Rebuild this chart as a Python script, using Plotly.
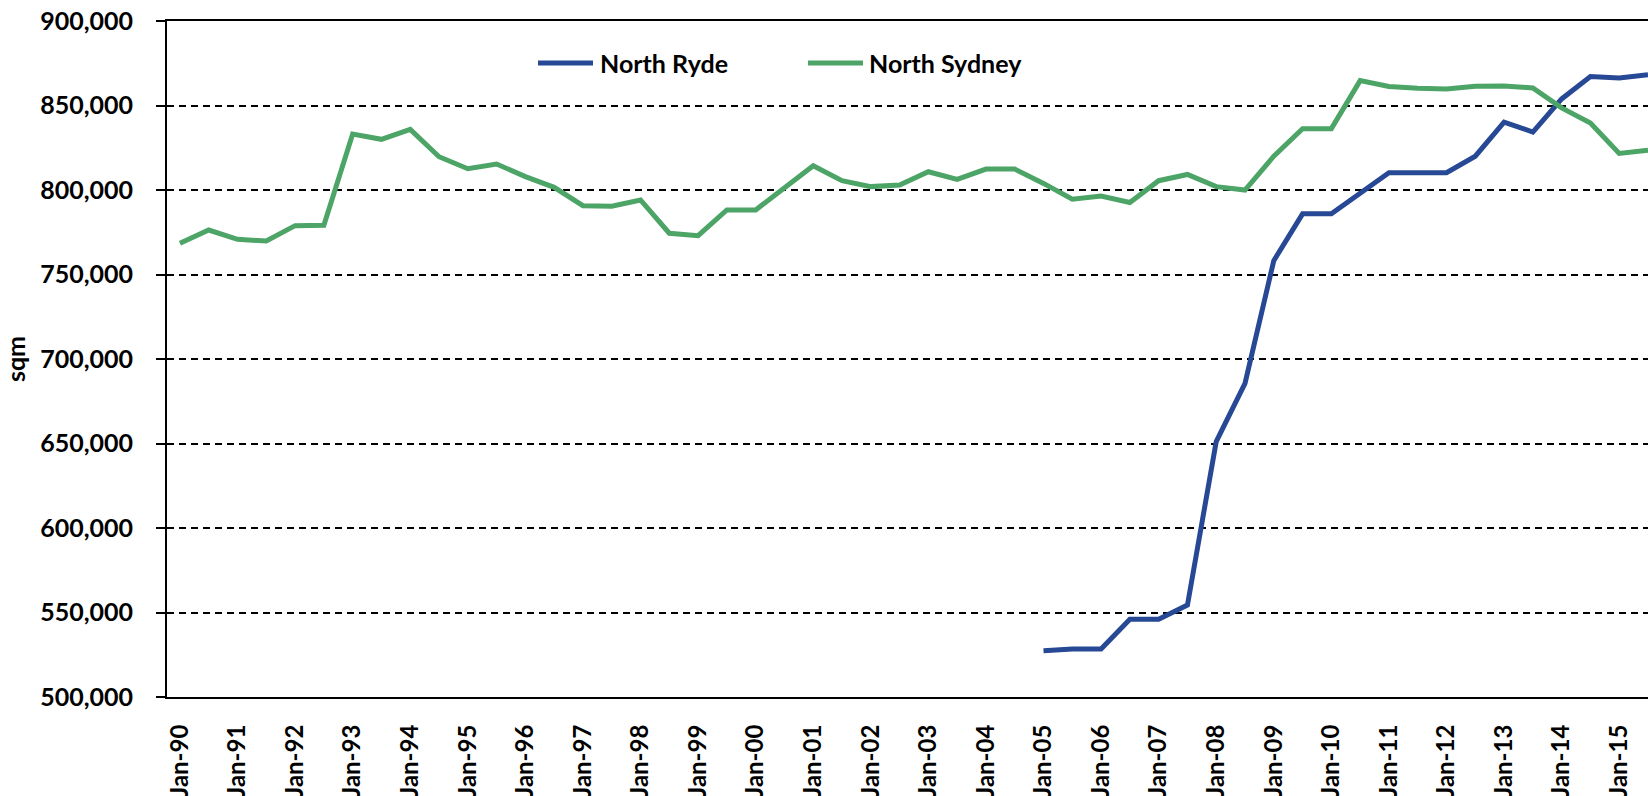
import plotly.graph_objects as go

# Half-yearly periods, Jan-90 .. Jul-15
years = [f"{y % 100:02d}" for y in range(1990, 2016)]
periods = [f"{m}-{yy}" for yy in years for m in ("Jan", "Jul")]
tick_labels = [f"Jan-{yy}" for yy in years]

# Office stock (sqm)
north_sydney = [
    768500, 776300, 770800, 769800, 778900, 779100, 833100, 830000, 835900, 819700,
    812600, 815400, 807900, 801600, 790700, 790400, 794100, 774400, 773000, 788200,
    788200, 801000, 814400, 805500, 802000, 803000, 810800, 806300, 812400, 812400,
    803900, 794500, 796400, 792600, 805500, 809200, 802000, 800000, 820000, 836300,
    836300, 864700, 861200, 860200, 859800, 861400, 861600, 860400, 848600, 839600,
    821600, 823500,
]
north_ryde_periods = periods[30:]
north_ryde = [
    527400, 528400, 528400, 546000, 546000, 554400, 651100, 685600, 758200, 785900,
    785900, 798000, 810200, 810200, 810200, 820000, 840200, 834300, 853900, 867100,
    866300, 868200,
]

BLUE = "#264895"
GREEN = "#4ca466"
FONT = "Lato"

W, H = 1648, 796
M_L, M_R, M_T, M_B = 167, 0, 21, 99
PW, PH = W - M_L - M_R, H - M_T - M_B


def px_x(x):
    return (x - M_L) / PW


def px_y(y):
    return (H - M_B - y) / PH


fig = go.Figure()
fig.add_trace(go.Scatter(
    x=north_ryde_periods, y=north_ryde, mode="lines", name="North Ryde",
    line=dict(color=BLUE, width=5), showlegend=False,
))
fig.add_trace(go.Scatter(
    x=periods, y=north_sydney, mode="lines", name="North Sydney",
    line=dict(color=GREEN, width=5), showlegend=False,
))

# Legend keys drawn across the top of the plot
legend_items = [("North Ryde", BLUE, 538, 593, 598), ("North Sydney", GREEN, 808, 863, 867)]
for name, color, x0, x1, tx in legend_items:
    fig.add_shape(type="line", xref="paper", yref="paper",
                  x0=px_x(x0), x1=px_x(x1), y0=px_y(63), y1=px_y(63),
                  line=dict(color=color, width=5))
    fig.add_annotation(text=name, xref="paper", yref="paper",
                       x=px_x(tx), y=px_y(63), xanchor="left", yanchor="middle",
                       showarrow=False,
                       font=dict(family=FONT, size=25, color="black", weight="bold"))

fig.update_layout(
    width=W, height=H,
    margin=dict(l=M_L, r=M_R, t=M_T, b=M_B),
    paper_bgcolor="white", plot_bgcolor="white",
    font=dict(family=FONT, size=25, color="black", weight="bold"),
    showlegend=False,
)
fig.update_xaxes(
    type="category", categoryorder="array", categoryarray=periods,
    range=[-0.45, 51.0],
    tickmode="array", tickvals=tick_labels, ticktext=tick_labels,
    tickangle=-90, ticks="", ticklabelstandoff=16,
    showgrid=False, zeroline=False,
    showline=True, linecolor="black", linewidth=2, mirror=True,
    automargin=False,
    tickfont=dict(family=FONT, size=24, color="black", weight="bold"),
)
fig.update_yaxes(
    range=[500000, 900000], dtick=50000, tick0=500000, tickformat=",",
    ticks="outside", ticklen=9, tickwidth=1.5, tickcolor="black",
    ticklabelstandoff=18,
    showgrid=True, gridcolor="black", gridwidth=1.5, griddash="7px,5px",
    zeroline=False,
    showline=True, linecolor="black", linewidth=2,
    automargin=False,
    title=dict(text="sqm", standoff=14,
               font=dict(family=FONT, size=25, color="black", weight="bold")),
    tickfont=dict(family=FONT, size=25, color="black", weight="bold"),
)

fig.write_html("out.html")
